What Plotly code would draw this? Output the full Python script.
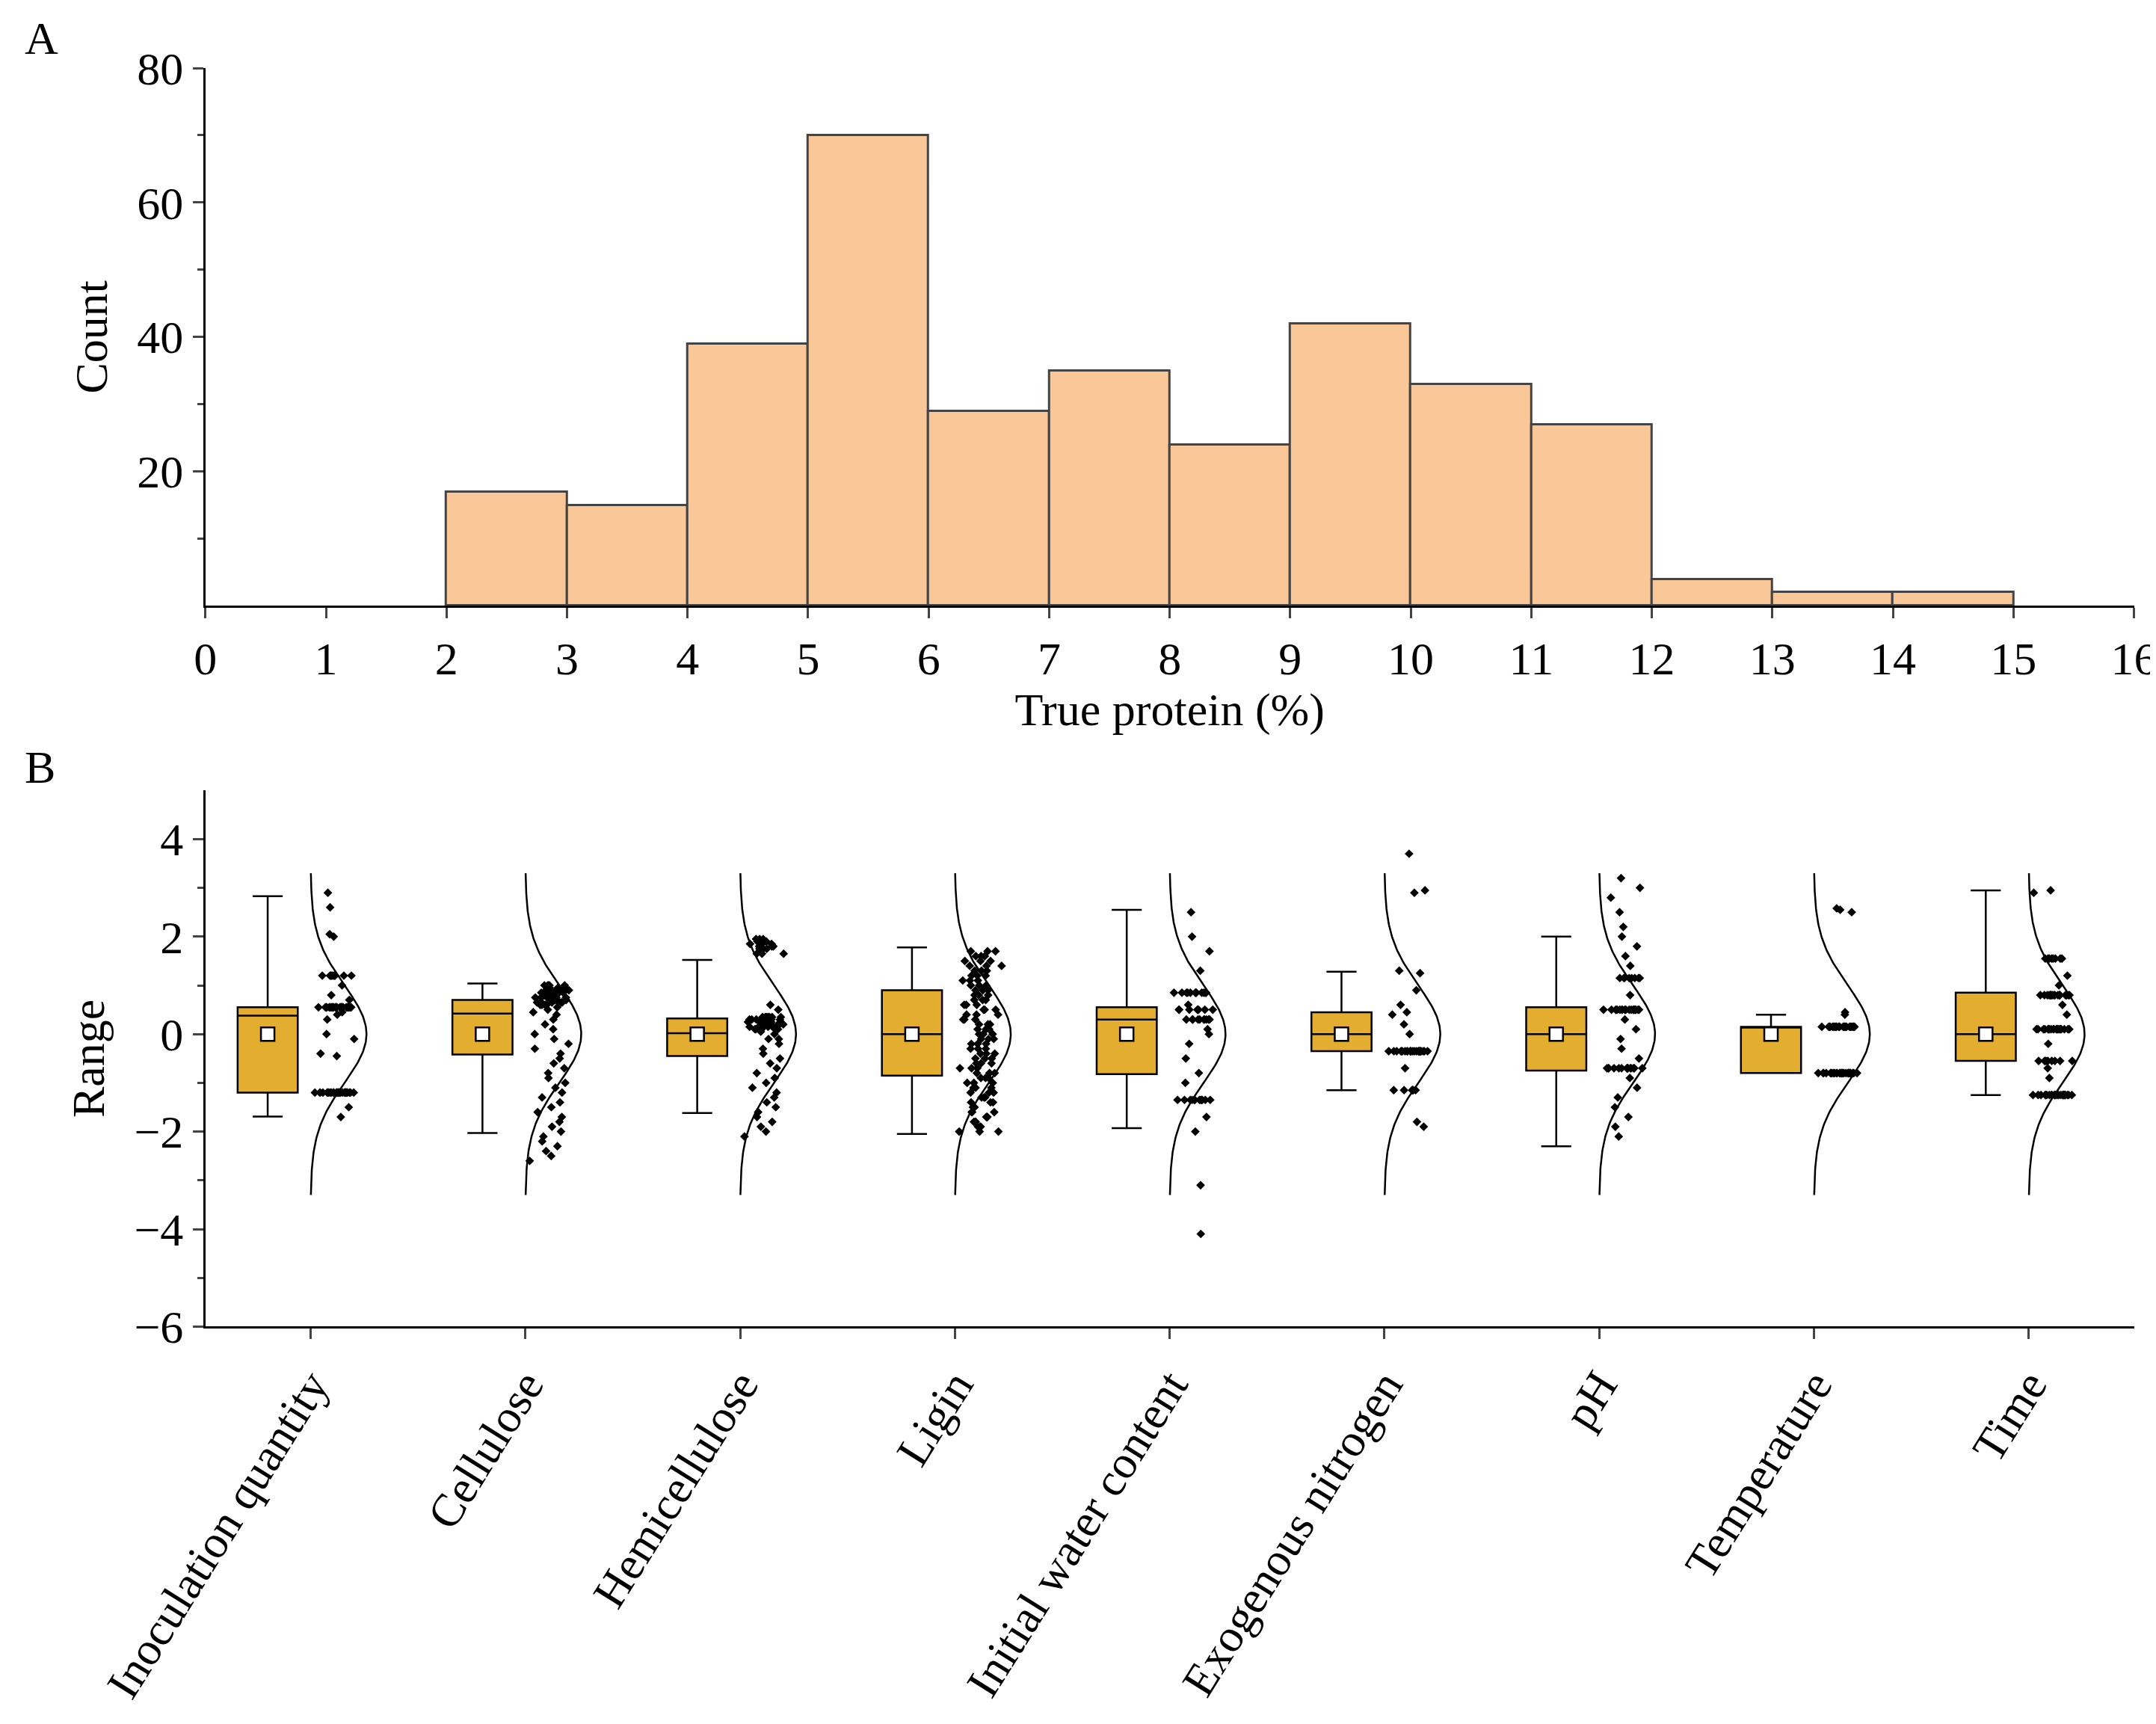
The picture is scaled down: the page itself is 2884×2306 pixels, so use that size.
import plotly.graph_objects as go
import numpy as np

# ---- Panel A data ----
bin_left = [2,3,4,5,6,7,8,9,10,11,12,13,14]
counts = [17,15,39,70,29,35,24,42,33,27,4,2,2]

# ---- Panel B data ----
cats = ["Inoculation quantity","Cellulose","Hemicellulose","Ligin","Initial water content",
        "Exogenous nitrogen","pH","Temperature","Time"]
upper = [2.83,1.04,1.52,1.78,2.55,1.28,2.0,0.4,2.95]
q3    = [0.55,0.70,0.32,0.90,0.55,0.45,0.55,0.15,0.85]
med   = [0.38,0.42,0.02,0.0,0.30,0.0,0.0,0.15,0.0]
q1    = [-1.2,-0.42,-0.45,-0.85,-0.82,-0.35,-0.75,-0.80,-0.55]
lower = [-1.69,-2.03,-1.62,-2.05,-1.93,-1.15,-2.3,-0.80,-1.25]
means = [0,0,0,0,0,0,0,0,0]

pts = [
 [-1.2]*30+[0.55]*30+[1.2]*10+[0.3,0.4,0.45,-0.4,-0.45,0.0,-0.1,2.0,2.05,1.0,2.9,2.6,-1.5,-1.7,0.7,0.8],
 [-2.6,-2.5,-2.4,-2.3,-2.2,-2.1,-2.0,-1.9,-1.8,-1.7,-1.6,-1.5,-1.4,-1.3,-1.2,-1.1,-1.0,-0.9,-0.8,-0.7,-0.6,-0.5,-0.4,-0.3,-0.2,-0.1,0.0,0.1,0.2,0.3,0.4,0.45,0.5,0.55]
 +[0.6,0.65,0.7,0.75,0.8,0.85,0.9,0.95,1.0]*5,
 [-2.1,-2.0,-1.9,-1.8,-1.7,-1.6,-1.5,-1.4,-1.3,-1.2,-1.1,-1.0,-0.9,-0.8,-0.7,-0.6,-0.5,-0.4,-0.3,-0.2,-0.1,0.0]
 +[0.1,0.15,0.2,0.25,0.3,0.35]*7+[1.65,1.75,1.8,1.85,1.9,1.95]*3+[0.5,0.6,-0.1,0.05],
 [-2.0,-1.9,-1.8,-1.7,-1.6,-1.5,-1.4,-1.3,-1.2,-1.1,-1.0,-0.9,-0.8,-0.7,-0.6,-0.5,-0.4,-0.3,-0.2,-0.1,
  0.0,0.1,0.2,0.3,0.4,0.5,0.6,0.7,0.8,0.9,1.0,1.1,1.2,1.3,1.4,1.5,1.6,1.7]*3,
 [0.85]*12+[0.3]*10+[0.5]*8+[-1.35]*12+[0.0,-0.2,-0.5,-0.8,-1.0,0.6,0.1,1.3,1.7,2.0,2.5,-1.7,-2.0,-3.1,-4.1],
 [-0.35]*25+[-1.15]*6+[0.4,0.45,0.9,1.3,1.25,2.9,2.95,3.7,0.0,-0.7,-1.8,-1.9,0.2,0.6],
 [0.5]*20+[-0.7]*15+[1.15]*8+[-2.1,-1.9,-1.7,-1.5,-1.3,-1.1,-0.9,-0.5,-0.3,-0.1,0.1,0.3,0.8,1.4,1.6,1.8,2.0,2.2,2.5,2.8,3.0,3.2],
 [-0.8]*30+[0.15]*25+[0.4,0.45,2.55,2.5,2.58],
 [-1.25]*25+[0.1]*20+[0.8]*20+[1.55]*8+[-0.55]*8+[-0.2,0.4,1.0,1.2,-0.9,-0.7,0.6,2.95,2.9]
]

gold = "#E3AD2F"
fig = go.Figure()
fig.add_trace(go.Bar(x=[b+0.5 for b in bin_left], y=counts, width=1,
    marker=dict(color="#FAC898", line=dict(color="#444444", width=3)),
    xaxis="x", yaxis="y", showlegend=False))

off = 0.2
for i, c in enumerate(cats):
    fig.add_trace(go.Box(x=[i], q1=[q1[i]], median=[med[i]], q3=[q3[i]],
        lowerfence=[lower[i]], upperfence=[upper[i]], width=0.28,
        fillcolor=gold, line=dict(color="black", width=2.5),
        boxpoints=False, xaxis="x2", yaxis="y2", showlegend=False))
    fig.add_trace(go.Scatter(x=[i], y=[means[i]], mode="markers",
        marker=dict(symbol="square", color="white", size=18, line=dict(color="black", width=2.5)),
        xaxis="x2", yaxis="y2", showlegend=False))
    v = np.array(pts[i])
    yy = np.linspace(-3.3, 3.3, 200)
    xx = i + off + 0.26*np.exp(-(yy**2)/2)
    fig.add_trace(go.Scatter(x=xx, y=yy, mode="lines", line=dict(color="black", width=2.5),
        xaxis="x2", yaxis="y2", showlegend=False))
    jit = np.array([((k*0.618034) % 1 + (k*0.3819*k) % 1) / 2 for k in range(len(v))])
    fig.add_trace(go.Scatter(x=i + off + 0.02 + 0.2*jit, y=v, mode="markers",
        marker=dict(symbol="diamond", color="black", size=9),
        xaxis="x2", yaxis="y2", showlegend=False))

font = dict(family="Liberation Serif", size=62, color="black")
ax = dict(showline=True, linecolor="black", linewidth=3, ticks="outside", ticklen=14,
          tickwidth=3, tickfont=font, showgrid=False, zeroline=False, automargin=False)
fig.update_layout(
    width=2884, height=2306, margin=dict(l=0, r=0, t=0, b=0),
    plot_bgcolor="white", paper_bgcolor="white", font=font, bargap=0,
    xaxis=dict(ax, domain=[0.0925, 0.987], range=[0, 16], tickvals=list(range(17)),
               title=dict(text="True protein (%)", font=font, standoff=10), anchor="y"),
    yaxis=dict(ax, domain=[0.652, 0.964], range=[0, 80], tickvals=[20, 40, 60, 80],
               minor=dict(tickvals=[10, 30, 50, 70], ticks="outside", ticklen=8, tickwidth=3),
               title=dict(text="Count", font=font, standoff=20), anchor="x"),
    xaxis2=dict(ax, domain=[0.0925, 0.987], range=[-0.29, 8.69],
                tickvals=[i + off for i in range(9)], ticktext=cats, tickangle=-58, anchor="y2"),
    yaxis2=dict(ax, domain=[0.234, 0.545], range=[-6, 5], tickvals=[-6, -4, -2, 0, 2, 4],
                ticktext=["\u22126", "\u22124", "\u22122", "0", "2", "4"],
                minor=dict(tickvals=[-5, -3, -1, 1, 3], ticks="outside", ticklen=8, tickwidth=3),
                title=dict(text="Range", font=font, standoff=20), anchor="x2"),
    annotations=[
        dict(text="A", x=0.008, y=0.997, xref="paper", yref="paper", showarrow=False, font=font, xanchor="left", yanchor="top"),
        dict(text="B", x=0.008, y=0.574, xref="paper", yref="paper", showarrow=False, font=font, xanchor="left", yanchor="top"),
    ])
fig.write_html("out.html")
